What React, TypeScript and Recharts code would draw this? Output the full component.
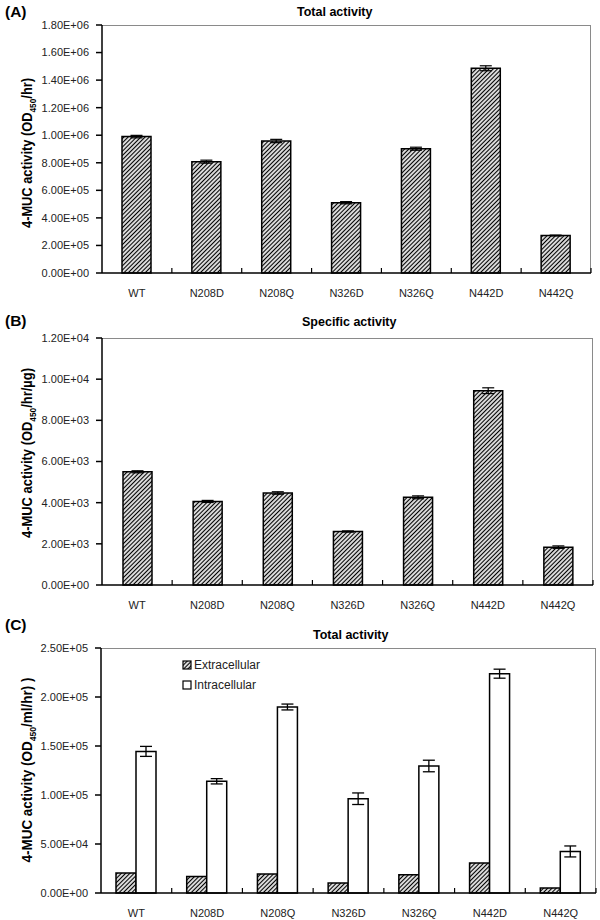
import React from 'react';
import { BarChart, Bar, XAxis, YAxis, ErrorBar } from 'recharts';

const categories = ['WT', 'N208D', 'N208Q', 'N326D', 'N326Q', 'N442D', 'N442Q'];

// (A) total activity
const totalActivity = [990000, 808000, 958000, 510000, 902000, 1486000, 272000];
const totalErr = [9000, 11000, 12000, 8000, 11000, 18000, 3000];
const totalTicks = [0, 200000, 400000, 600000, 800000, 1000000, 1200000, 1400000, 1600000, 1800000];

// (B) specific activity
const specificActivity = [5500, 4060, 4470, 2600, 4260, 9440, 1840];
const specificErr = [50, 50, 60, 30, 70, 140, 60];
const specificTicks = [0, 2000, 4000, 6000, 8000, 10000, 12000];

// (C) extra / intra cellular
const extracellular = [20400, 16800, 19400, 10200, 18700, 30600, 5100];
const intracellular = [144500, 114000, 189800, 96200, 129600, 223800, 42400];
const intraErr = [5100, 2700, 3000, 5900, 5900, 4600, 5600];
const cellTicks = [0, 50000, 100000, 150000, 200000, 250000];

const FONT = '"Liberation Sans", Arial, sans-serif';

const dataA = categories.map((c, i) => ({ name: c, v: totalActivity[i], err: totalErr[i] }));
const dataB = categories.map((c, i) => ({ name: c, v: specificActivity[i], err: specificErr[i] }));
const dataC = categories.map((c, i) => ({ name: c, ext: extracellular[i], int: intracellular[i], err: intraErr[i] }));

function sci(v: number) {
  if (v === 0) return '0.00E+00';
  const e = Math.floor(Math.log10(Math.abs(v)));
  const m = v / Math.pow(10, e);
  return `${m.toFixed(2)}E+${String(e).padStart(2, '0')}`;
}

// category label plus the small inward tick at the right edge of each band
function makeTick(band: number) {
  return (props: any) => {
    const { x, y, payload } = props;
    return (
      <g>
        <line x1={x + band / 2} x2={x + band / 2} y1={y - 5} y2={y} stroke="#000" strokeWidth={1.2} />
        <text x={x} y={y + 24} textAnchor="middle" fontSize={11} fill="#222" fontFamily={FONT}>
          {payload.value}
        </text>
      </g>
    );
  };
}

function YLabel({ x, cy, unit, trail, len }: { x: number; cy: number; unit: string; trail?: string; len: number }) {
  return (
    <text
      transform={`translate(${x},${cy}) rotate(-90)`}
      textAnchor="middle"
      fontSize={14}
      fontWeight="bold"
      fontFamily={FONT}
      fill="#000"
      textLength={len}
      lengthAdjust="spacingAndGlyphs"
    >
      4-MUC activity (OD
      <tspan fontSize={9} dy={4}>450</tspan>
      <tspan dy={-4}>{unit}){trail ?? ''}</tspan>
    </text>
  );
}

function Panel({ data, ticks, top, height, marginTop, marginBottom, plotLeft, plotRight, children }: any) {
  const yw = 60;
  const band = (plotRight - plotLeft) / categories.length;
  const plotBottom = height - marginBottom;
  return (
    <div style={{ position: 'absolute', left: 0, top, width: 600, height }}>
      {/* grey frame on the top and right of the plot area */}
      <div
        style={{
          position: 'absolute',
          left: plotLeft,
          top: marginTop,
          width: plotRight - plotLeft,
          height: plotBottom - marginTop,
          borderTop: '1px solid #8a8a8a',
          borderRight: '1px solid #8a8a8a',
          boxSizing: 'border-box',
        }}
      />
      <BarChart
        width={600}
        height={height}
        data={data}
        margin={{ top: marginTop, left: plotLeft - yw, right: 600 - plotRight, bottom: 0 }}
        barGap={0}
        style={{ position: 'absolute', left: 0, top: 0 }}
      >
        <XAxis
          dataKey="name"
          height={marginBottom}
          tickSize={0}
          tickMargin={0}
          tickLine={false}
          stroke="#000"
          strokeWidth={1.5}
          interval={0}
          tick={makeTick(band)}
        />
        <YAxis
          width={yw}
          domain={[ticks[0], ticks[ticks.length - 1]]}
          ticks={ticks}
          interval={0}
          tickFormatter={sci}
          tickSize={6}
          tickMargin={7}
          stroke="#000"
          strokeWidth={1.5}
          tick={{ fontSize: 11, fill: '#222', fontFamily: FONT }}
        />
        {children}
      </BarChart>
    </div>
  );
}

const title: React.CSSProperties = {
  position: 'absolute',
  fontFamily: FONT,
  fontWeight: 'bold',
  fontSize: 12.5,
  color: '#000',
  lineHeight: '14px',
  whiteSpace: 'nowrap',
};
const panelTag: React.CSSProperties = {
  position: 'absolute',
  fontFamily: FONT,
  fontWeight: 'bold',
  fontSize: 15.5,
  color: '#000',
  lineHeight: '18px',
};

function CellLegend() {
  const row = (label: string, fill: string) => (
    <div style={{ display: 'flex', alignItems: 'center', height: 20 }}>
      <svg width={10} height={10} style={{ marginRight: 2 }}>
        <rect x={1} y={1} width={8} height={8} fill={fill} stroke="#000" strokeWidth={1.2} />
      </svg>
      <span style={{ fontFamily: FONT, fontSize: 12, color: '#222' }}>{label}</span>
    </div>
  );
  return (
    <div style={{ position: 'absolute', left: 182, top: 655 }}>
      {row('Extracellular', 'url(#hatch)')}
      {row('Intracellular', '#fff')}
    </div>
  );
}

export default function App() {
  return (
    <div style={{ position: 'absolute', left: 0, top: 0, width: 600, height: 920, background: '#fff' }}>
      <svg width={0} height={0} style={{ position: 'absolute' }}>
        <defs>
          <pattern id="hatch" patternUnits="userSpaceOnUse" width={3} height={3} patternTransform="rotate(45)">
            <rect width={3} height={3} fill="#fff" />
            <line x1={1.5} y1={0} x2={1.5} y2={3} stroke="#000" strokeWidth={1.3} />
          </pattern>
        </defs>
      </svg>

      {/* (A) */}
      <div style={{ ...panelTag, left: 5, top: 3 }}>(A)</div>
      <div style={{ ...title, left: 297, top: 5 }}>Total activity</div>
      <Panel data={dataA} ticks={totalTicks} top={0} height={300} marginTop={25} marginBottom={27} plotLeft={102} plotRight={591}>
        <Bar dataKey="v" barSize={29} fill="url(#hatch)" stroke="#000" strokeWidth={1.5} isAnimationActive={false}>
          <ErrorBar dataKey="err" width={6} stroke="#000" strokeWidth={1.2} />
        </Bar>
      </Panel>
      <svg width={40} height={300} style={{ position: 'absolute', left: 0, top: 0 }}>
        <YLabel x={32} cy={153} unit="/hr" len={150} />
      </svg>

      {/* (B) */}
      <div style={{ ...panelTag, left: 5, top: 312 }}>(B)</div>
      <div style={{ ...title, left: 302, top: 315 }}>Specific activity</div>
      <Panel data={dataB} ticks={specificTicks} top={300} height={320} marginTop={38} marginBottom={35} plotLeft={102} plotRight={593}>
        <Bar dataKey="v" barSize={29} fill="url(#hatch)" stroke="#000" strokeWidth={1.5} isAnimationActive={false}>
          <ErrorBar dataKey="err" width={6} stroke="#000" strokeWidth={1.2} />
        </Bar>
      </Panel>
      <svg width={40} height={320} style={{ position: 'absolute', left: 0, top: 300 }}>
        <YLabel x={32} cy={153} unit="/hr/µg" len={170} />
      </svg>

      {/* (C) */}
      <div style={{ ...panelTag, left: 5, top: 616 }}>(C)</div>
      <div style={{ ...title, left: 313, top: 628 }}>Total activity</div>
      <Panel data={dataC} ticks={cellTicks} top={615} height={305} marginTop={33} marginBottom={27} plotLeft={101} plotRight={596}>
        <Bar dataKey="ext" name="Extracellular" barSize={20} fill="url(#hatch)" stroke="#000" strokeWidth={1.5} isAnimationActive={false} />
        <Bar dataKey="int" name="Intracellular" barSize={20} fill="#fff" stroke="#000" strokeWidth={1.5} isAnimationActive={false}>
          <ErrorBar dataKey="err" width={6} stroke="#000" strokeWidth={1.3} />
        </Bar>
      </Panel>
      <CellLegend />
      <svg width={40} height={305} style={{ position: 'absolute', left: 0, top: 615 }}>
        <YLabel x={32} cy={155} unit="/ml/hr" trail=" )" len={185} />
      </svg>
    </div>
  );
}
